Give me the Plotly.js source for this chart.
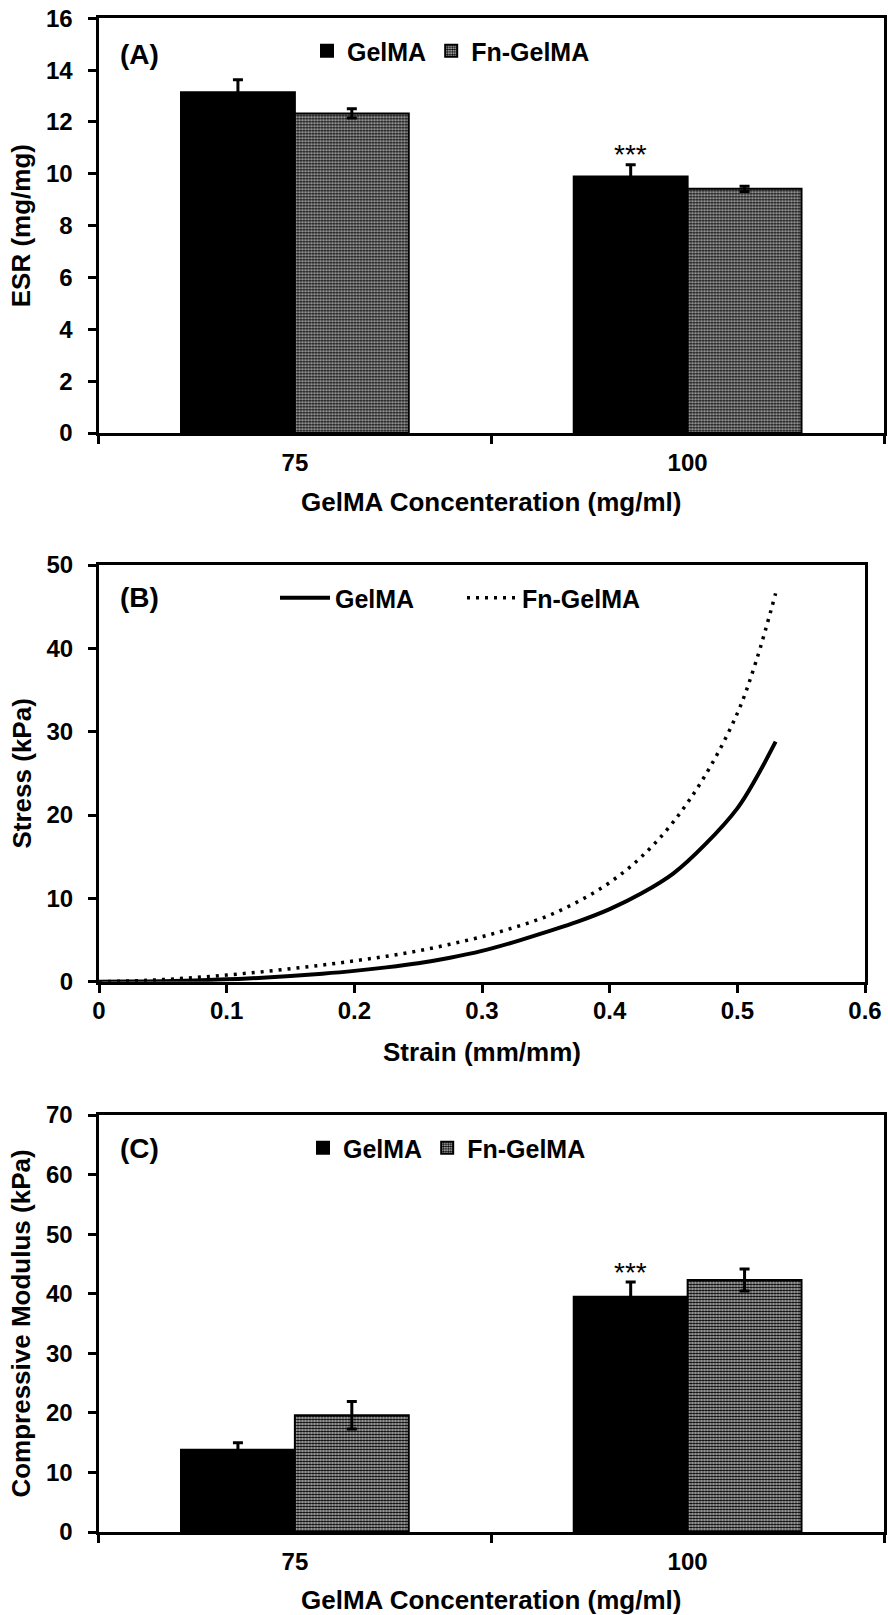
<!DOCTYPE html>
<html><head><meta charset="utf-8">
<script src="https://cdn.plot.ly/plotly-3.0.1.min.js"></script>
<style>html,body{margin:0;padding:0;background:#fff}</style>
</head><body>
<div id="chart" style="width:888px;height:1615px"></div>
<script>
// ---------- data ----------
const categories = ['75', '100'];
const seriesNames = ['GelMA', 'Fn-GelMA'];

// Panel A: equilibrium swelling ratio (mg/mg)
const esrGelMA = [13.15, 9.9];
const esrGelMAErr = [0.48, 0.45];
const esrFn = [12.33, 9.42];
const esrFnErr = [0.18, 0.1];

// Panel B: stress-strain curves
const strain = [0, 0.025, 0.05, 0.075, 0.1, 0.125, 0.15, 0.175, 0.2, 0.225, 0.25, 0.275, 0.3, 0.325, 0.35, 0.375, 0.4, 0.425, 0.45, 0.475, 0.5, 0.515, 0.53];
const stressGelMA = [0, 0.02, 0.06, 0.15, 0.28, 0.45, 0.68, 0.96, 1.3, 1.72, 2.22, 2.88, 3.7, 4.75, 5.95, 7.2, 8.7, 10.6, 13.0, 16.5, 20.8, 24.5, 28.8];
const stressFn = [0, 0.1, 0.25, 0.5, 0.8, 1.15, 1.55, 2.0, 2.5, 3.05, 3.7, 4.5, 5.4, 6.5, 7.8, 9.6, 11.9, 15.0, 19.2, 24.8, 32.2, 38.6, 46.6];

// Panel C: compressive modulus (kPa)
const modGelMA = [13.8, 39.5];
const modGelMAErr = [1.2, 2.45];
const modFn = [19.6, 42.3];
const modFnErr = [2.3, 1.85];

// significance markers
const sigText = '***';
const sigCategoryIndex = 1;
const sigYA = 10.75;
const sigYC = 43.6;

const panelLabels = ['(A)', '(B)', '(C)'];
const xTitleBars = 'GelMA Concenteration (mg/ml)';
const yTitleA = 'ESR (mg/mg)';
const xTitleB = 'Strain (mm/mm)';
const yTitleB = 'Stress (kPa)';
const yTitleC = 'Compressive Modulus (kPa)';

// ---------- layout helpers ----------
const W = 888, H = 1615;
const px = v => v / W;
const py = v => 1 - v / H;
const FONT = 'Liberation Sans, Arial, sans-serif';
const bargap = 0.42;

const blackBar = {color: '#000', line: {color: '#000', width: 2}};
const greyBar = {
  color: '#fff',
  line: {color: '#000', width: 2},
  pattern: {shape: '.', fgcolor: '#000', bgcolor: '#d8d8d8', size: 3, solidity: 0.6}
};
const errStyle = (arr) => ({type: 'data', array: arr, visible: true, color: '#000', thickness: 3, width: 5});

const traces = [
  {type: 'bar', x: categories, y: esrGelMA, name: seriesNames[0], marker: blackBar, error_y: errStyle(esrGelMAErr), xaxis: 'x', yaxis: 'y', legend: 'legend'},
  {type: 'bar', x: categories, y: esrFn, name: seriesNames[1], marker: greyBar, error_y: errStyle(esrFnErr), xaxis: 'x', yaxis: 'y', legend: 'legend'},
  {type: 'scatter', mode: 'lines', x: strain, y: stressGelMA, name: seriesNames[0], line: {color: '#000', width: 4, shape: 'spline'}, xaxis: 'x2', yaxis: 'y2', legend: 'legend2'},
  {type: 'scatter', mode: 'lines', x: strain, y: stressFn, name: seriesNames[1], line: {color: '#000', width: 3.5, dash: '3px,6px', shape: 'spline'}, xaxis: 'x2', yaxis: 'y2', legend: 'legend2'},
  {type: 'bar', x: categories, y: modGelMA, name: seriesNames[0], marker: blackBar, error_y: errStyle(modGelMAErr), xaxis: 'x3', yaxis: 'y3', legend: 'legend3'},
  {type: 'bar', x: categories, y: modFn, name: seriesNames[1], marker: greyBar, error_y: errStyle(modFnErr), xaxis: 'x3', yaxis: 'y3', legend: 'legend3'}
];

const tickFont = {family: FONT, size: 24, color: '#000', weight: 'bold'};
const titleFont = {family: FONT, size: 26, color: '#000', weight: 'bold'};
const baseAxis = {
  showline: true, linewidth: 3, linecolor: '#000', mirror: true,
  ticks: 'outside', ticklen: 8, tickwidth: 3, tickcolor: '#000',
  showgrid: false, zeroline: false, tickfont: tickFont, fixedrange: true
};
const xAxisCat = (dom, anchor, titleText) => Object.assign({}, baseAxis, {
  domain: dom, anchor: anchor, type: 'category', range: [-0.5, 1.5], tickson: 'boundaries',
  ticklabelstandoff: 6,
  title: {text: titleText, font: titleFont, standoff: 19}
});
const yAxisNum = (dom, anchor, rng, dt, titleText) => Object.assign({}, baseAxis, {
  domain: dom, anchor: anchor, range: rng, dtick: dt, tick0: 0,
  ticklabelstandoff: 10,
  title: {text: titleText, font: titleFont, standoff: 8}
});

const legendBase = {orientation: 'h', xanchor: 'left', yanchor: 'middle', bgcolor: 'rgba(0,0,0,0)', borderwidth: 0,
  font: {family: FONT, size: 25, color: '#000', weight: 'bold'}};

const sigX = sigCategoryIndex - (1 - bargap) / 4;

const layout = {
  width: W, height: H,
  margin: {l: 0, r: 0, t: 0, b: 0},
  paper_bgcolor: '#fff', plot_bgcolor: '#fff',
  font: {family: FONT, color: '#000'},
  barmode: 'group', bargap: bargap, bargroupgap: 0,
  showlegend: true,
  xaxis: xAxisCat([px(98.5), px(884)], 'y', xTitleBars),
  yaxis: yAxisNum([py(433), py(18.3)], 'x', [0, 16], 2, yTitleA),
  xaxis2: Object.assign({}, baseAxis, {
    domain: [px(99), px(865)], anchor: 'y2', range: [0, 0.6], dtick: 0.1, tick0: 0,
    ticklabelstandoff: -3, title: {text: xTitleB, font: titleFont, standoff: 21}
  }),
  yaxis2: yAxisNum([py(981.7), py(565)], 'x2', [0, 50], 10, yTitleB),
  xaxis3: xAxisCat([px(98.5), px(884)], 'y3', xTitleBars),
  yaxis3: yAxisNum([py(1532), py(1115)], 'x3', [0, 70], 10, yTitleC),
  legend: Object.assign({}, legendBase, {x: px(307), y: py(51)}),
  legend2: Object.assign({}, legendBase, {x: px(275), y: py(598), itemwidth: 50, entrywidth: 122}),
  legend3: Object.assign({}, legendBase, {x: px(303), y: py(1148)}),
  annotations: [
    {xref: 'paper', yref: 'paper', x: px(118), y: py(55), xanchor: 'left', yanchor: 'middle', text: panelLabels[0], showarrow: false, font: {family: FONT, size: 28, weight: 'bold', color: '#000'}},
    {xref: 'paper', yref: 'paper', x: px(118), y: py(598), xanchor: 'left', yanchor: 'middle', text: panelLabels[1], showarrow: false, font: {family: FONT, size: 28, weight: 'bold', color: '#000'}},
    {xref: 'paper', yref: 'paper', x: px(118), y: py(1148), xanchor: 'left', yanchor: 'middle', text: panelLabels[2], showarrow: false, font: {family: FONT, size: 28, weight: 'bold', color: '#000'}},
    {xref: 'x', yref: 'y', x: sigX, y: sigYA, xanchor: 'center', yanchor: 'middle', text: sigText, showarrow: false, font: {family: FONT, size: 28, color: '#000'}},
    {xref: 'x3', yref: 'y3', x: sigX, y: sigYC, xanchor: 'center', yanchor: 'middle', text: sigText, showarrow: false, font: {family: FONT, size: 28, color: '#000'}}
  ]
};

Plotly.newPlot('chart', traces, layout, {staticPlot: true, displayModeBar: false});
</script>
</body></html>
